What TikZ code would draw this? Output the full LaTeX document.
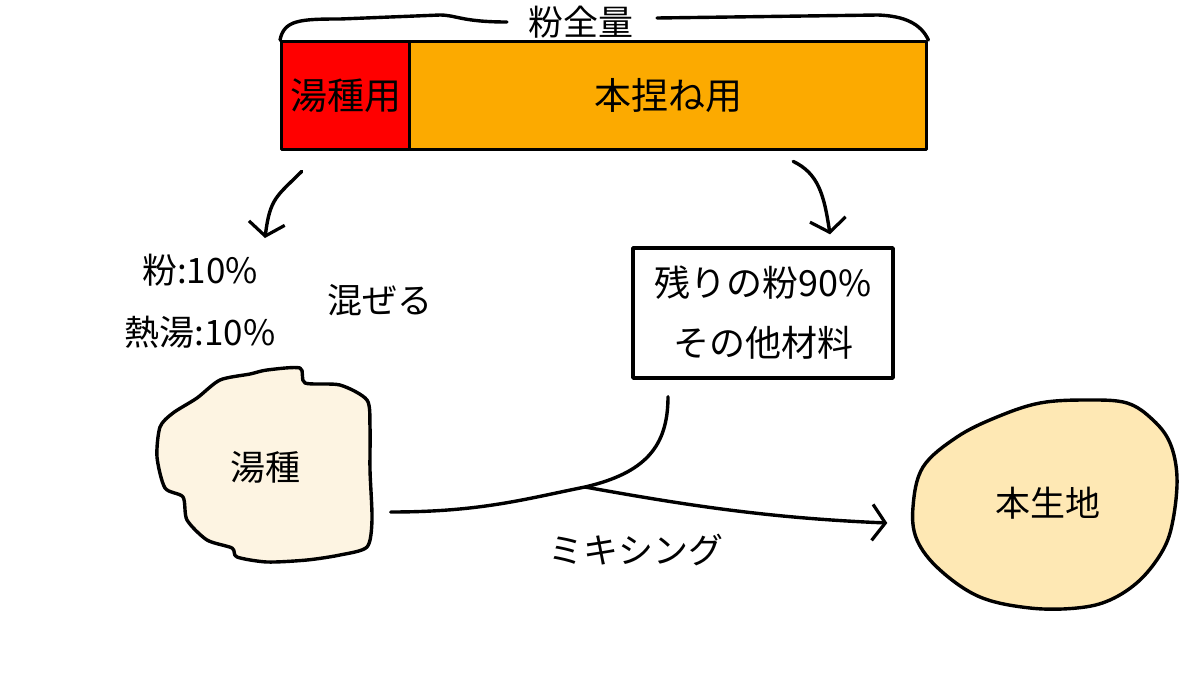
\documentclass[tikz,border=0pt]{standalone}
\usepackage{fontspec}
\setmainfont{Noto Sans CJK JP}
\usetikzlibrary{arrows.meta, positioning, calc}
\definecolor{ydRed}{RGB}{255,0,0}
\definecolor{hkOrange}{RGB}{252,170,0}
\definecolor{ydCream}{RGB}{253,244,226}
\definecolor{hkDough}{RGB}{254,232,180}

\begin{document}
\begin{tikzpicture}[x=1pt,y=-1pt,font=\fontsize{35}{42}\selectfont,
  ink/.style={line width=3.4pt,line cap=round,line join=round},
  seg/.style={ink,draw=black,minimum height=108pt,inner sep=0pt,
              font=\fontsize{37}{42}\selectfont},
  arr/.style={ink,-{Straight Barb[length=13pt,width=36pt,line width=3.2pt]}}]
\useasboundingbox[fill=white] (0,0) rectangle (1200,675);

\node[seg,fill=ydRed,minimum width=128pt,anchor=north west]
  (yuB) at (280,40) {湯種用};
\node[seg,fill=hkOrange,minimum width=517pt,right=-3.4pt of yuB]
  (koneB) {本捏ね用};

\node (total) at (581,22) {粉全量};
\draw[ink] (yuB.north west) .. controls (284,20) and (300,19) .. (340,19)
  -- (440,15) .. controls (456,15) and (462,22) .. ($(total.west)+(-18,0)$);
\draw[ink] ($(total.east)+(20,-4)$) -- (878,15)
  .. controls (905,16) and (921,24) .. (koneB.north east);

\node (flour) at (200,270) {粉:10\%};
\node (water) at (200,332) {熱湯:10\%};
\node (mixA) at (380,300) {混ぜる};

\draw[arr] ($(yuB.south)+(-44,20)$) .. controls +(-25,25) and +(5,-40)
  .. ($(flour.center)+(65,-32)$);

\node[ink,draw,fill=white,minimum width=260pt,minimum height=130pt,
      align=center,font=\fontsize{36}{60}\selectfont]
  (rest) at (763,313) {残りの粉90\%\\その他材料};

\draw[arr] ($(koneB.south)+(125,10)$) .. controls +(25,12) and +(-6,-40)
  .. ($(rest.north)+(67,-12)$);

\draw[ink,fill=ydCream] plot[smooth cycle,tension=0.45] coordinates {
  (220,380) (250,374) (267,370) (300,368) (305,383) (340,385) (367,400)
  (370,427) (370,470) (372,520) (367,547) (340,555) (307,560) (267,562)
  (237,557) (232,548) (207,540) (187,520) (183,497) (165,488) (157,457)
  (160,427) (173,413) (197,398)};
\node[minimum width=215pt,minimum height=190pt] (yudane) at (265,467)
  {湯種};

\draw[ink,fill=hkDough] plot[smooth cycle,tension=0.6] coordinates {
  (1077,608) (1030,608) (980,597) (940,570) (917,540) (913,507) (923,467)
  (957,437) (997,417) (1040,403) (1087,400) (1127,403) (1153,420)
  (1170,443) (1177,477) (1173,520) (1163,550) (1140,580) (1110,600)};
\node[minimum width=265pt,minimum height=205pt] (dough) at (1048,503)
  {本生地};

\coordinate (mix) at (585,487);
\draw[ink] ($(yudane.east)+(18,45)$) .. controls +(90,0) and +(-60,12) .. (mix)
  .. controls +(60,-14) and +(0,50) .. ($(rest.south)+(-95,17)$);
\draw[arr] (mix) .. controls +(100,18) and +(-120,-5)
  .. ($(dough.west)+(-28,20)$);

\node (mixB) at (636,550) {ミキシング};
\end{tikzpicture}
\end{document}
